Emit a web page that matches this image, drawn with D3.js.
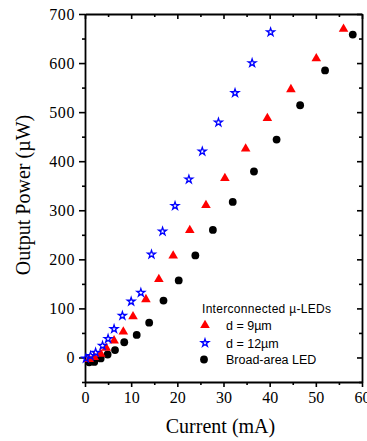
<!DOCTYPE html>
<html><head><meta charset="utf-8">
<script src="https://cdn.jsdelivr.net/npm/d3@7"></script>
<style>body{margin:0;background:#fff}svg{display:block}</style>
</head><body><svg id="c" width="367" height="441"></svg>
<script>
const star12X = [0.2,1.2,2.3,3.8,5.0,6.3,8.1,10.0,12.1,14.4,16.8,19.5,22.5,25.4,28.9,32.5,36.2,40.2];
const star12Y = [-2,3,10,24,38,58,85,114,132,210,257,309,363,420,479,539,600,663];
const tri9X = [0.9,2.0,3.4,4.6,6.3,8.3,10.4,13.2,16.0,19.1,22.7,26.2,30.3,34.8,39.5,44.6,50.1,56.0];
const tri9Y = [-2,2,9,21,36,54,85,120,161,209,261,312,367,427,489,548,611,671];
const broadX = [0.9,2.0,3.4,4.9,6.5,8.5,11.2,13.9,17.0,20.3,23.9,27.7,32.0,36.6,41.5,46.6,52.0,58.0];
const broadY = [-10,-9,-2,6,15,31,46,71,116,157,208,260,317,379,444,514,585,658];
const xTicks = [0,10,20,30,40,50,60];
const yTicks = [0,100,200,300,400,500,600,700];
const legendTitle = "Interconnected \u00b5-LEDs";
const legendLabels = ["d = 9\u00b5m","d = 12\u00b5m","Broad-area LED"];

const svg = d3.select("#c");
const L=85,R=362,T=14,B=382;
const x = d3.scaleLinear().domain([0,60]).range([L,R]);
const y = d3.scaleLinear().domain([-50,700]).range([B,T]);
const serif = "'Liberation Serif','Times New Roman',serif";
const sans = "'Liberation Sans',Arial,sans-serif";

function styleAxis(g){
  g.select(".domain").attr("stroke","#000").attr("stroke-width",1.8);
  g.selectAll(".tick line").attr("stroke","#000").attr("stroke-width",1.6);
  g.selectAll(".tick text").attr("font-family",serif).attr("font-size",16).attr("fill","#000");
}
const xMinor = d3.range(5,60,10), yMinor = d3.range(-50,701,100);
// bottom
const gb = svg.append("g").attr("transform",`translate(0,${B})`)
  .call(d3.axisBottom(x).tickValues(xTicks).tickSize(5).tickSizeOuter(0).tickPadding(5).tickFormat(d3.format("d")));
styleAxis(gb);
svg.append("g").attr("transform",`translate(0,${B})`).call(d3.axisBottom(x).tickValues(xMinor).tickSize(3).tickFormat("")).call(g=>{g.select(".domain").remove();styleAxis(g);});
// left
const gl = svg.append("g").attr("transform",`translate(${L},0)`)
  .call(d3.axisLeft(y).tickValues(yTicks).tickSize(6).tickSizeOuter(0).tickPadding(4).tickFormat(d3.format("d")));
styleAxis(gl);
gl.selectAll(".tick text").attr("letter-spacing",0.6);
svg.append("g").attr("transform",`translate(${L},0)`).call(d3.axisLeft(y).tickValues(yMinor).tickSize(3).tickFormat("")).call(g=>{g.select(".domain").remove();styleAxis(g);});
// top (inside ticks)
svg.append("g").attr("transform",`translate(0,${T})`).call(d3.axisBottom(x).tickValues(xTicks).tickSize(5).tickSizeOuter(0).tickFormat("")).call(styleAxis);
svg.append("g").attr("transform",`translate(0,${T})`).call(d3.axisBottom(x).tickValues(xMinor).tickSize(3).tickFormat("")).call(g=>{g.select(".domain").remove();styleAxis(g);});
// right (inside ticks)
svg.append("g").attr("transform",`translate(${R},0)`).call(d3.axisLeft(y).tickValues(yTicks).tickSize(5).tickSizeOuter(0).tickFormat("")).call(styleAxis);
svg.append("g").attr("transform",`translate(${R},0)`).call(d3.axisLeft(y).tickValues(yMinor).tickSize(3).tickFormat("")).call(g=>{g.select(".domain").remove();styleAxis(g);});

// axis titles
svg.append("text").attr("x",(L+R)/2-3).attr("y",433).attr("text-anchor","middle")
  .attr("font-family",serif).attr("font-size",20).text("Current (mA)");
svg.append("text").attr("transform",`translate(30,${195}) rotate(-90)`).attr("text-anchor","middle")
  .attr("font-family",serif).attr("font-size",20).text("Output Power (\u00b5W)");

const triSym = d3.symbol().type(d3.symbolTriangle).size(40);
const starSym = d3.symbol().type(d3.symbolStar).size(19);
function drawTri(g,px,py){ g.append("path").attr("d",triSym()).attr("transform",`translate(${px},${py+0.8})`).attr("fill","#ff0000"); }
function drawStar(g,px,py){ g.append("path").attr("d",starSym()).attr("transform",`translate(${px},${py})`).attr("fill","none").attr("stroke","#0000ff").attr("stroke-width",1.3); }
function drawCirc(g,px,py){ g.append("circle").attr("cx",px).attr("cy",py).attr("r",3.9).attr("fill","#000"); }

const pts = svg.append("g");
broadX.forEach((v,i)=>drawCirc(pts,x(v),y(broadY[i])));
tri9X.forEach((v,i)=>drawTri(pts,x(v),y(tri9Y[i])));
star12X.forEach((v,i)=>drawStar(pts,x(v),y(star12Y[i])));

// legend
const lg = svg.append("g");
lg.append("text").attr("x",202).attr("y",313).attr("font-family",sans).attr("font-size",12).attr("letter-spacing",0.3).text(legendTitle);
drawTri(lg,205,324.5);
drawStar(lg,205,343);
drawCirc(lg,204,359.5);
[330,348,364].forEach((yy,i)=>lg.append("text").attr("x",226).attr("y",yy).attr("font-family",sans).attr("font-size",12.5).text(legendLabels[i]));
</script></body></html>
